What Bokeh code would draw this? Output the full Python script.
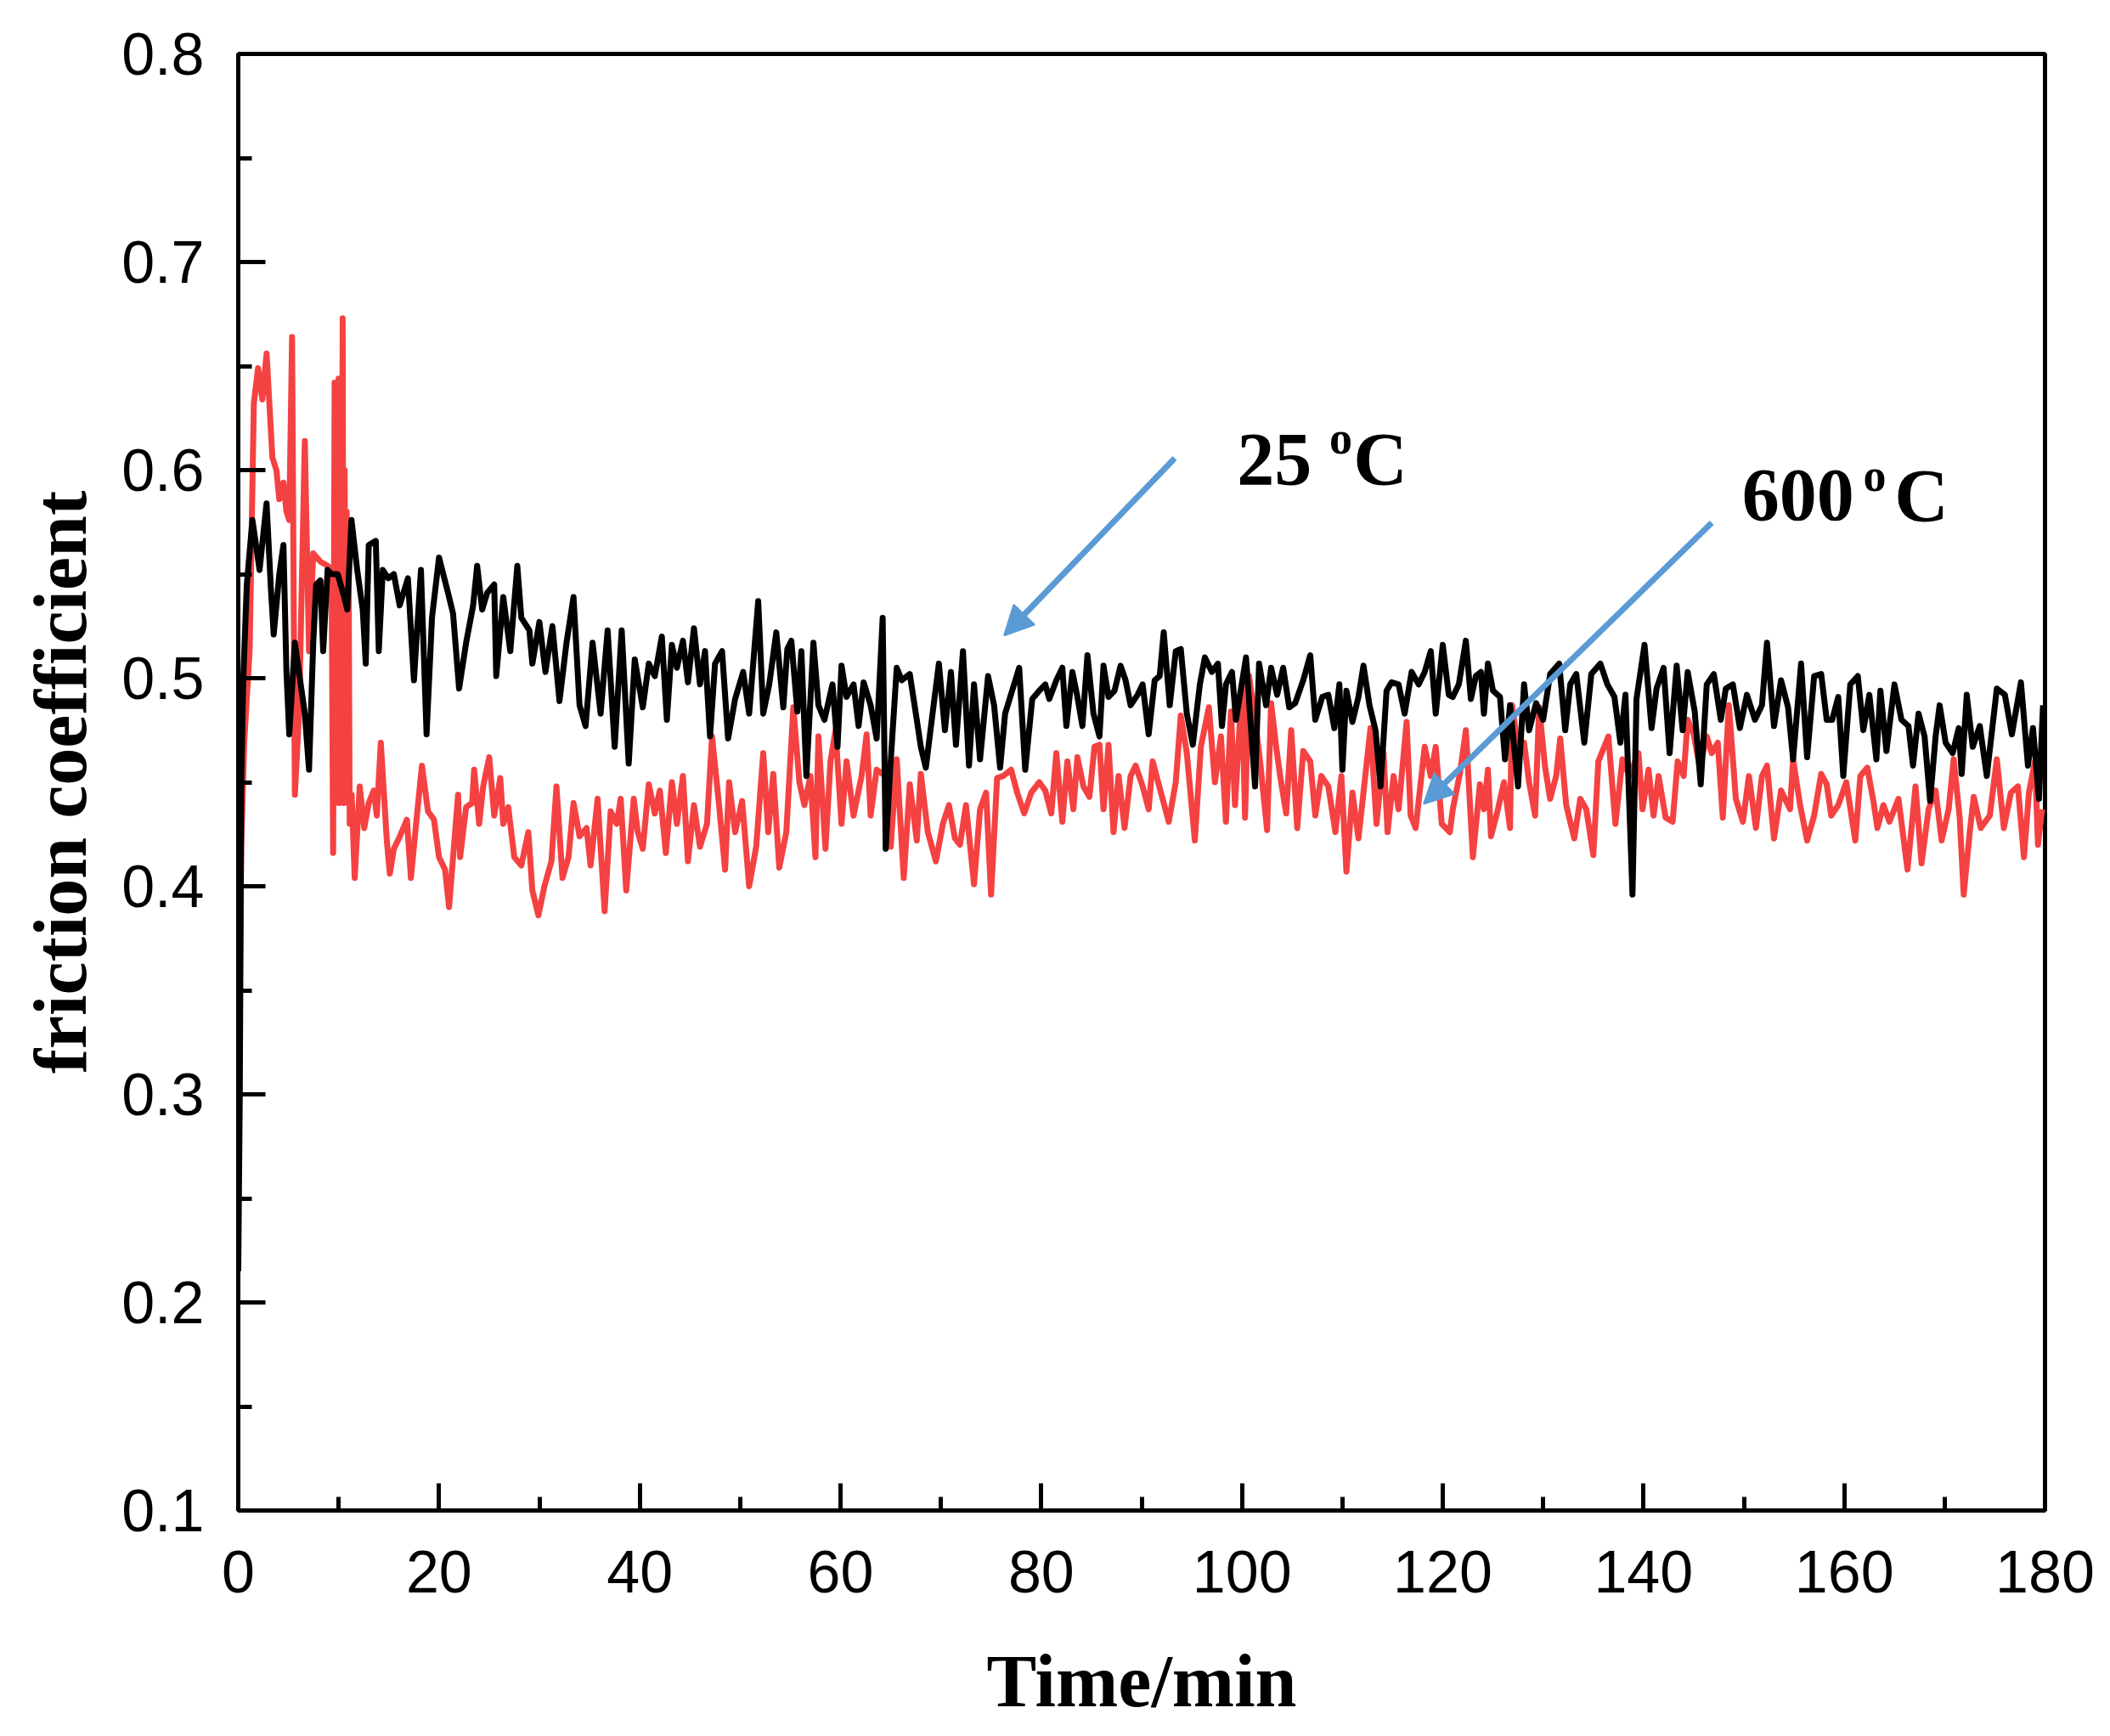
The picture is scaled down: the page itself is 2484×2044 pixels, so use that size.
from bokeh.plotting import figure
from bokeh.models import FixedTicker, Label, Arrow, NormalHead, Range1d
from bokeh.embed import file_html
from bokeh.resources import INLINE

# ---------------- data ----------------
time_25 = [0.0, 0.15, 0.3, 0.5, 0.85, 1.41, 2.12, 2.82, 3.25, 3.53, 4.09, 4.5, 4.8, 5.08, 5.64, 6.63, 7.05, 7.47, 7.76, 8.18, 8.46, 8.9, 9.3, 9.9, 10.5, 10.86, 11.28, 11.85, 12.4, 12.7, 13.0, 13.7, 14.0, 14.4, 14.95, 15.5, 16.08, 16.9, 17.5, 18.2, 18.76, 19.3, 20.0, 20.9, 21.4, 22.0, 22.7, 23.4, 23.8, 24.3, 24.8, 25.5, 25.7, 26.4, 27.1, 27.8, 28.2, 29.0, 29.3, 30.0, 30.6, 31.3, 32.0, 32.7, 33.4, 34.0, 34.6, 35.3, 36.1, 36.8, 37.5, 38.2, 38.9, 39.5,
           40.3, 40.9, 41.5, 42.2, 42.7, 43.2, 43.7, 44.3, 44.8, 45.4, 46.0, 46.5, 47.0, 47.5, 48.2, 48.8, 49.5, 50.3, 50.9, 51.8, 52.3, 52.9, 53.6, 54.3, 54.7, 55.1, 55.7, 56.1, 56.6, 57.3, 57.8, 58.4, 59.2, 59.7, 60.1, 60.6, 61.3, 61.8, 62.3, 63.0, 63.6, 64.2, 64.5, 65.0, 65.6, 66.1, 66.9, 67.6, 68.0, 68.5, 69.3, 69.8, 70.4, 71.0, 71.5, 72.2, 72.8, 73.3, 73.9, 74.7, 75.3, 75.9, 76.4, 77.1, 77.8, 78.4, 79.1, 79.8,
           80.4, 80.8, 81.5, 82.1, 82.5, 83.1, 83.6, 84.1, 84.6, 85.2, 85.8, 86.2, 86.7, 87.3, 87.9, 88.4, 88.9, 89.6, 90.1, 90.7, 91.3, 91.8, 92.2, 92.8, 93.4, 93.9, 94.5, 95.1, 95.8, 96.3, 97.0, 97.6, 98.0, 98.4, 99.0, 99.4, 100.4, 101.3, 101.7, 102.4, 102.9, 103.5, 104.1, 104.7, 105.3, 106.1, 106.8, 107.3, 108.0, 108.6, 109.2, 109.7, 110.0, 110.4, 111.0, 111.6, 112.1, 112.7, 113.3, 113.8, 114.4, 114.9, 115.6, 116.2, 116.9, 117.6, 118.2, 118.8, 119.3, 120.0, 120.6,
           121.0, 121.6, 122.3, 122.8, 123.3, 123.8, 124.1, 124.5, 125.0, 125.7, 126.2, 126.7, 127.5, 128.1, 128.6, 129.3, 130.0, 130.7, 131.6, 132.2, 132.7, 133.3, 134.1, 134.8, 135.7, 136.4, 137.1, 137.7, 138.2, 138.9, 139.3, 140.1, 140.8, 141.3, 142.0, 142.6, 143.3, 143.9, 144.4, 145.1, 145.7, 146.3, 147.0, 147.7, 148.2, 148.9, 149.6, 150.3, 151.1, 151.8, 152.3, 153.0, 153.7, 154.4, 154.9, 155.7, 156.3, 157.0, 157.7,
           158.25, 158.8, 159.4, 159.9, 160.6, 161.35, 161.9, 162.5, 163.2, 163.6, 164.2, 165.0, 165.7, 166.4, 166.85, 167.4, 168.0, 168.55, 169.1, 169.5, 170.1, 170.8, 171.4, 171.7, 172.2, 172.8, 173.5, 174.2, 175.2, 176.0, 176.7, 177.6, 178.3, 178.8, 179.4, 179.8]
mu_25 = [0.215, 0.30, 0.45, 0.50, 0.545, 0.576, 0.552, 0.584, 0.543, 0.521, 0.55, 0.564, 0.503, 0.473, 0.517, 0.483, 0.456, 0.517, 0.545, 0.547, 0.513, 0.552, 0.55, 0.55, 0.54, 0.533, 0.576, 0.552, 0.533, 0.507, 0.564, 0.566, 0.513, 0.552, 0.548, 0.55, 0.535, 0.548, 0.499, 0.552, 0.473, 0.529, 0.558, 0.541, 0.531, 0.495, 0.517, 0.535, 0.554, 0.533, 0.541, 0.545, 0.501, 0.539, 0.513, 0.554, 0.529, 0.523, 0.507, 0.527, 0.503, 0.525, 0.489, 0.517, 0.539, 0.487, 0.477, 0.517, 0.483, 0.523, 0.467, 0.523, 0.459, 0.509,
         0.486, 0.507, 0.501, 0.520, 0.48, 0.516, 0.505, 0.518, 0.498, 0.524, 0.497, 0.513, 0.472, 0.507, 0.513, 0.471, 0.490, 0.503, 0.483, 0.537, 0.483, 0.497, 0.522, 0.486, 0.514, 0.518, 0.484, 0.513, 0.453, 0.517, 0.487, 0.48, 0.497, 0.467, 0.506, 0.491, 0.497, 0.477, 0.498, 0.487, 0.471, 0.529, 0.418, 0.46, 0.505, 0.499, 0.502, 0.48, 0.467, 0.457, 0.488, 0.507, 0.475, 0.503, 0.468, 0.513, 0.458, 0.497, 0.461, 0.501, 0.487, 0.457, 0.483, 0.494, 0.505, 0.456, 0.490, 0.494,
         0.497, 0.490, 0.499, 0.505, 0.477, 0.503, 0.491, 0.477, 0.511, 0.483, 0.472, 0.506, 0.491, 0.494, 0.506, 0.499, 0.487, 0.492, 0.497, 0.473, 0.499, 0.501, 0.522, 0.487, 0.513, 0.514, 0.483, 0.468, 0.497, 0.510, 0.503, 0.507, 0.477, 0.497, 0.503, 0.48, 0.510, 0.448, 0.507, 0.487, 0.505, 0.492, 0.505, 0.486, 0.488, 0.499, 0.511, 0.48, 0.491, 0.492, 0.476, 0.497, 0.456, 0.494, 0.479, 0.491, 0.506, 0.487, 0.475, 0.448, 0.494, 0.498, 0.497, 0.483, 0.503, 0.497, 0.503, 0.513, 0.483, 0.516, 0.492,
         0.491, 0.497, 0.518, 0.490, 0.501, 0.503, 0.483, 0.507, 0.494, 0.491, 0.461, 0.487, 0.448, 0.497, 0.475, 0.488, 0.480, 0.502, 0.507, 0.475, 0.497, 0.502, 0.469, 0.502, 0.507, 0.497, 0.491, 0.469, 0.492, 0.396, 0.490, 0.516, 0.476, 0.495, 0.505, 0.464, 0.506, 0.475, 0.503, 0.484, 0.449, 0.497, 0.502, 0.480, 0.495, 0.497, 0.476, 0.492, 0.480, 0.487, 0.517, 0.477, 0.499, 0.486, 0.461, 0.507, 0.462, 0.501, 0.502,
         0.480, 0.480, 0.491, 0.453, 0.497, 0.501, 0.475, 0.492, 0.461, 0.494, 0.465, 0.497, 0.480, 0.477, 0.458, 0.483, 0.472, 0.441, 0.472, 0.487, 0.469, 0.464, 0.476, 0.454, 0.492, 0.467, 0.477, 0.453, 0.495, 0.492, 0.473, 0.498, 0.458, 0.476, 0.442, 0.487]

time_600 = [0.0, 0.1, 0.3, 0.6, 1.13, 1.55, 1.97, 2.4, 2.82, 3.4, 3.8, 4.09, 4.5, 4.8, 5.08, 5.36, 5.64, 6.06, 6.63, 7.05, 7.47, 8.18, 8.9, 9.3, 9.45, 9.6, 9.7, 9.8, 9.9, 10.0, 10.1, 10.2, 10.3, 10.4, 10.5, 10.6, 10.7, 10.8, 10.9, 11.0, 11.1, 11.3, 11.6, 12.1, 12.55, 13.0, 13.5, 13.8, 14.2, 14.8, 15.1, 15.5, 16.1, 16.8, 17.2, 17.8, 18.3, 18.9, 19.5, 20.0, 20.6, 21.0, 21.4, 21.9, 22.1, 22.7, 23.3, 23.5, 24.0, 24.4, 25.0, 25.5, 26.1, 26.4, 26.9, 27.5, 28.2, 28.9, 29.3, 29.9, 30.5, 31.2, 31.7, 32.3, 32.9, 33.4, 34.0, 34.7, 35.1, 35.8, 36.5, 37.1, 37.7, 38.1, 38.65, 39.4,
            39.8, 40.3, 40.9, 41.5, 42.0, 42.6, 43.2, 43.7, 44.3, 44.8, 45.4, 46.0, 46.7, 47.2, 47.9, 48.5, 48.9, 49.5, 50.2, 50.9, 51.6, 52.3, 52.8, 53.3, 53.9, 54.6, 55.3, 55.9, 56.4, 57.0, 57.5, 57.8, 58.5, 59.0, 59.5, 60.1, 60.6, 61.3, 62.1, 62.6, 63.0, 63.6, 64.5, 65.0, 65.6, 66.3, 66.9, 67.6, 68.0, 68.7, 69.5, 70.2, 70.8, 71.4, 71.9, 72.5, 73.3, 73.9, 74.5, 75.0, 75.6, 76.2, 77.0, 77.6, 78.3, 79.0, 79.8,
            80.4, 81.0, 81.5, 82.1, 82.6, 83.2, 83.6, 84.2, 84.8, 85.3, 85.8, 86.2, 86.7, 87.2, 87.7, 88.3, 88.9, 89.4, 90.1, 90.7, 91.1, 91.7, 92.7, 93.4, 93.9, 94.5, 95.3, 95.9, 96.7, 97.3, 97.9, 98.4, 98.9, 99.3, 100.0, 100.3, 100.7, 101.3, 101.8, 102.5, 102.9, 103.4, 103.8, 104.4, 104.9, 105.5, 106.1, 106.8, 107.3, 107.9, 108.6, 109.3, 109.9, 110.4, 111.0, 111.6, 112.1, 112.8, 113.4, 114.1, 114.5, 115.1, 115.6, 116.4, 116.8, 117.3, 118.2, 118.8, 119.3, 119.9, 120.7,
            121.0, 121.7, 122.3, 123.0, 123.7, 124.1, 124.5, 124.8, 125.4, 126.1, 126.7, 126.9, 127.5, 128.1, 128.6, 129.2, 129.6, 130.2, 130.7, 131.3, 131.7, 132.3, 133.1, 133.7, 134.3, 135.0, 135.5, 136.5, 137.2, 137.9, 138.6, 139.5, 139.9, 140.5, 141.0, 141.5, 142.2, 142.9, 143.4, 144.0, 144.4, 145.0, 145.6, 146.3, 146.8, 147.4, 147.9, 148.5, 149.2, 149.9, 150.5, 151.2, 151.8, 152.3, 153.0, 153.7, 154.6, 154.9, 155.6, 156.3, 157.0, 157.7,
            158.25, 158.7, 159.4, 160.2, 161.1, 161.6, 162.3, 162.9, 163.3, 163.9, 164.5, 165.4, 166.3, 167.1, 167.7, 168.4, 169.1, 169.7, 170.4, 170.9, 171.5, 171.9, 172.5, 172.9, 173.6, 174.5, 175.2, 175.9, 176.6, 177.3, 177.9, 178.4, 179.0, 179.3, 179.7]
mu_600 = [0.40, 0.325, 0.42, 0.47, 0.513, 0.632, 0.649, 0.634, 0.656, 0.606, 0.600, 0.586, 0.594, 0.58, 0.576, 0.664, 0.444, 0.483, 0.614, 0.513, 0.56, 0.556, 0.554, 0.552, 0.416, 0.642, 0.44, 0.63, 0.45, 0.644, 0.44, 0.62, 0.45, 0.673, 0.44, 0.60, 0.45, 0.58, 0.44, 0.55, 0.43, 0.444, 0.404, 0.448, 0.428, 0.44, 0.446, 0.434, 0.469, 0.422, 0.406, 0.418, 0.424, 0.432, 0.404, 0.434, 0.458, 0.436, 0.432, 0.414, 0.408, 0.39, 0.414, 0.444, 0.414, 0.438, 0.44, 0.456, 0.43, 0.448, 0.462, 0.434, 0.452, 0.43, 0.438, 0.414, 0.41, 0.426, 0.398, 0.386, 0.40, 0.412, 0.448, 0.404, 0.414, 0.44, 0.424, 0.428, 0.41, 0.442, 0.388, 0.436, 0.43, 0.442, 0.398, 0.442,
          0.426, 0.418, 0.449, 0.435, 0.446, 0.416, 0.450, 0.430, 0.453, 0.412, 0.439, 0.419, 0.430, 0.472, 0.439, 0.408, 0.450, 0.426, 0.441, 0.400, 0.419, 0.464, 0.426, 0.454, 0.409, 0.426, 0.486, 0.450, 0.439, 0.453, 0.414, 0.472, 0.418, 0.460, 0.475, 0.430, 0.460, 0.434, 0.453, 0.473, 0.434, 0.456, 0.453, 0.419, 0.461, 0.404, 0.449, 0.422, 0.454, 0.426, 0.412, 0.430, 0.439, 0.423, 0.420, 0.439, 0.401, 0.437, 0.445, 0.396, 0.452, 0.453, 0.456, 0.445, 0.435, 0.445, 0.450,
          0.446, 0.435, 0.464, 0.431, 0.460, 0.437, 0.462, 0.448, 0.443, 0.467, 0.468, 0.437, 0.468, 0.426, 0.453, 0.428, 0.453, 0.458, 0.448, 0.437, 0.460, 0.449, 0.431, 0.450, 0.482, 0.464, 0.422, 0.467, 0.486, 0.450, 0.472, 0.431, 0.484, 0.439, 0.497, 0.433, 0.501, 0.48, 0.460, 0.427, 0.488, 0.467, 0.453, 0.435, 0.475, 0.428, 0.465, 0.460, 0.434, 0.453, 0.448, 0.426, 0.453, 0.407, 0.445, 0.423, 0.445, 0.476, 0.430, 0.464, 0.426, 0.453, 0.437, 0.479, 0.434, 0.428, 0.467, 0.453, 0.467, 0.430, 0.426,
          0.437, 0.454, 0.475, 0.414, 0.449, 0.437, 0.456, 0.424, 0.435, 0.450, 0.428, 0.487, 0.467, 0.469, 0.450, 0.434, 0.486, 0.457, 0.442, 0.453, 0.471, 0.439, 0.423, 0.442, 0.437, 0.415, 0.460, 0.472, 0.430, 0.461, 0.453, 0.464, 0.437, 0.456, 0.434, 0.453, 0.433, 0.431, 0.460, 0.453, 0.480, 0.473, 0.457, 0.472, 0.464, 0.469, 0.433, 0.487, 0.442, 0.431, 0.453, 0.428, 0.453, 0.458, 0.423, 0.446, 0.437, 0.461, 0.439, 0.422, 0.434, 0.454,
          0.449, 0.434, 0.439, 0.450, 0.422, 0.453, 0.457, 0.441, 0.428, 0.439, 0.431, 0.442, 0.408, 0.448, 0.411, 0.437, 0.446, 0.422, 0.437, 0.461, 0.433, 0.396, 0.426, 0.443, 0.428, 0.434, 0.461, 0.428, 0.445, 0.448, 0.414, 0.445, 0.460, 0.420, 0.437]

x_ticks = [0, 20, 40, 60, 80, 100, 120, 140, 160, 180]
x_minor = [10, 30, 50, 70, 90, 110, 130, 150, 170]
y_ticks = [0.1, 0.2, 0.3, 0.4, 0.5, 0.6, 0.7, 0.8]
y_minor = [0.15, 0.25, 0.35, 0.45, 0.55, 0.65, 0.75]

label_25 = "25"
label_600 = "600"
deg_mark = "o"
unit_c = "C"

# annotation anchors (data units)
arrow_25 = (93.3, 0.6057, 76.3, 0.5205)
arrow_600 = (146.8, 0.5747, 118.1, 0.4396)
pos_25 = (99.5, 0.6053)
pos_25_o = (108.7, 0.6155)
pos_25_c = (111.1, 0.6053)
pos_600 = (149.8, 0.5878)
pos_600_o = (161.9, 0.5972)
pos_600_c = (165.0, 0.5878)

RED = "#F44242"
BLUE = "#5B9BD5"

p = figure(frame_width=2127, frame_height=1715,
           x_range=Range1d(0, 180), y_range=Range1d(0.1, 0.8),
           output_backend="svg", toolbar_location=None,
           min_border_left=280, min_border_top=63,
           min_border_right=65, min_border_bottom=266)

p.xgrid.visible = False
p.ygrid.visible = False
p.outline_line_color = "black"
p.outline_line_width = 5
p.outline_line_alpha = 1.0
p.background_fill_color = "white"
p.border_fill_color = "white"

p.line(time_600, mu_600, line_color=RED, line_width=7, line_join="round")
p.line(time_25, mu_25, line_color="black", line_width=7, line_join="round")

p.xaxis.ticker = FixedTicker(ticks=x_ticks, minor_ticks=x_minor)
p.yaxis.ticker = FixedTicker(ticks=y_ticks, minor_ticks=y_minor)

for ax in (p.xaxis[0], p.yaxis[0]):
    ax.axis_line_width = 5
    ax.axis_line_color = "black"
    ax.major_tick_line_width = 5
    ax.minor_tick_line_width = 5
    ax.major_tick_in = 32
    ax.major_tick_out = 0
    ax.minor_tick_in = 16
    ax.minor_tick_out = 0
    ax.major_label_text_font = "Liberation Sans"
    ax.major_label_text_font_size = "70px"
    ax.major_label_text_color = "black"
    ax.axis_label_text_font = "Liberation Serif"
    ax.axis_label_text_font_style = "bold"
    ax.axis_label_text_font_size = "88px"
    ax.axis_label_text_color = "black"

p.xaxis.axis_label = "Time/min"
p.yaxis.axis_label = "friction coefficient"
p.xaxis.major_label_standoff = 47
p.xaxis.axis_label_standoff = 53
p.yaxis.major_label_standoff = 40
p.yaxis.axis_label_standoff = 20

for (xs, ys, xe, ye) in (arrow_25, arrow_600):
    p.add_layout(Arrow(x_start=xs, y_start=ys, x_end=xe, y_end=ye,
                       line_color=BLUE, line_width=7,
                       end=NormalHead(size=34, fill_color=BLUE, line_color=BLUE, line_width=2)))

def add_text(pos, txt, size):
    p.add_layout(Label(x=pos[0], y=pos[1], text=txt, text_font="Liberation Serif",
                       text_font_style="bold", text_font_size=size, text_color="black",
                       text_align="left", text_baseline="alphabetic"))

add_text(pos_25, label_25, "88px")
add_text(pos_25_o, deg_mark, "54px")
add_text(pos_25_c, unit_c, "88px")
add_text(pos_600, label_600, "88px")
add_text(pos_600_o, deg_mark, "54px")
add_text(pos_600_c, unit_c, "88px")

open("out.html", "w").write(file_html(p, INLINE))
